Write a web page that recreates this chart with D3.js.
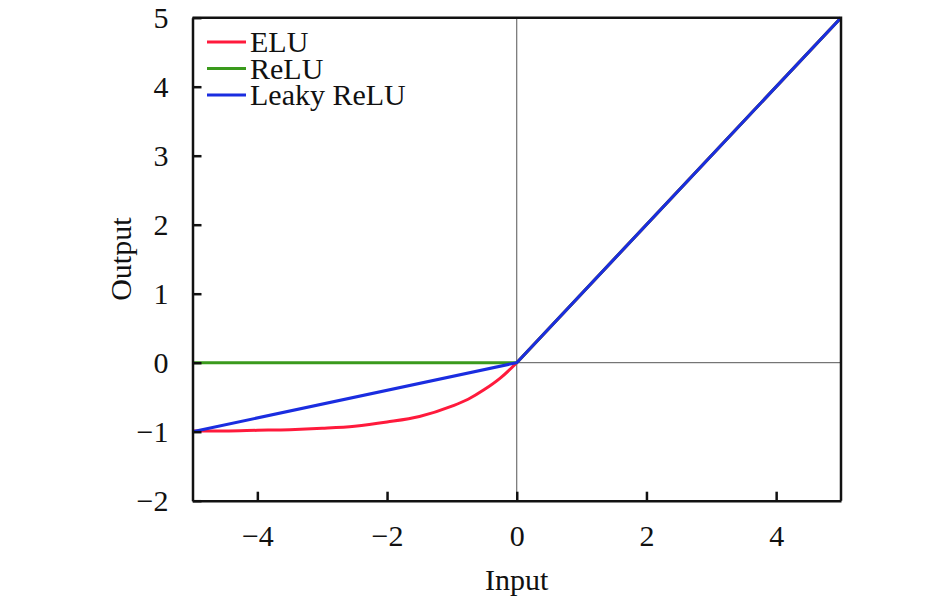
<!DOCTYPE html>
<html>
<head>
<meta charset="utf-8">
<script src="https://cdn.jsdelivr.net/npm/d3@7"></script>
<style>
  body { margin: 0; background: #fff; }
  text { font-family: "Liberation Serif", "Times New Roman", serif; fill: #111; }
</style>
</head>
<body>
<svg id="visualisation" width="945" height="600"></svg>
<script>
// values
var xTicks = [-4, -2, 0, 2, 4];
var yTicks = [-2, -1, 0, 1, 2, 3, 4, 5];

var eluX = [-5, -4.5, -4, -3.5, -3, -2.5, -2, -1.5, -1, -0.75, -0.5, -0.25, 0, 0.25, 1, 5];
var eluY = [-0.99, -0.99, -0.98, -0.97, -0.95, -0.92, -0.86, -0.78, -0.63, -0.53, -0.39, -0.22, 0, 0.25, 1, 5];

var reluX = [-5, 0, 5];
var reluY = [0, 0, 5];

var leakyX = [-5, 0, 5];
var leakyY = [-1, 0, 5];

var seriesNames = ["ELU", "ReLU", "Leaky ReLU"];
var seriesColors = ["#ff1a3c", "#3a9a1c", "#1a2de0"];

var zip = function (xs, ys) {
    return xs.map(function (x, i) { return { x: x, y: ys[i] }; });
};

var fmt = function (d) { return d < 0 ? "\u2212" + Math.abs(d) : d; };

var initchart = function () {
    var vis = d3.select("#visualisation"),
        MARGINS = { top: 17.7, right: 104, bottom: 99.3, left: 192.5 },
        WIDTH = 945,
        HEIGHT = 600,
        xScale = d3.scaleLinear().domain([-5, 5]).range([MARGINS.left, WIDTH - MARGINS.right]),
        yScale = d3.scaleLinear().domain([-2, 5]).range([HEIGHT - MARGINS.bottom, MARGINS.top]);

    // zero lines
    vis.append("line")
        .attr("x1", xScale(0)).attr("x2", xScale(0))
        .attr("y1", yScale(5)).attr("y2", yScale(-2))
        .attr("stroke", "#555").attr("stroke-width", 1);
    vis.append("line")
        .attr("x1", xScale(-5)).attr("x2", xScale(5))
        .attr("y1", yScale(0)).attr("y2", yScale(0))
        .attr("stroke", "#555").attr("stroke-width", 1);

    var lineGen = d3.line()
        .x(function (d) { return xScale(d.x); })
        .y(function (d) { return yScale(d.y); });

    var data = [zip(eluX, eluY), zip(reluX, reluY), zip(leakyX, leakyY)];
    data.forEach(function (pts, i) {
        vis.append("path")
            .attr("d", lineGen.curve(i === 0 ? d3.curveMonotoneX : d3.curveLinear)(pts))
            .attr("stroke", seriesColors[i])
            .attr("stroke-width", 3)
            .attr("fill", "none");
    });

    // axes with inward ticks
    var xAxis = d3.axisBottom(xScale).tickValues(xTicks).tickSizeInner(-9).tickSizeOuter(0)
        .tickPadding(24).tickFormat(fmt);
    var yAxis = d3.axisLeft(yScale).tickValues(yTicks).tickSizeInner(-9).tickSizeOuter(0)
        .tickPadding(24).tickFormat(fmt);

    var gx = vis.append("g")
        .attr("transform", "translate(0," + yScale(-2) + ")")
        .call(xAxis);
    var gy = vis.append("g")
        .attr("transform", "translate(" + xScale(-5) + ",0)")
        .call(yAxis);
    [gx, gy].forEach(function (g) {
        g.select(".domain").attr("stroke", "#111").attr("stroke-width", 2.5);
        g.selectAll(".tick line").attr("stroke", "#111").attr("stroke-width", 2.5);
        g.selectAll(".tick text").style("font-family", "Liberation Serif").style("font-size", "30px").attr("fill", "#111");
    });
    gx.selectAll(".tick text").attr("dy", "0.72em");

    // top and right frame
    vis.append("path")
        .attr("d", "M" + xScale(-5) + "," + yScale(5) + "H" + xScale(5) + "V" + yScale(-2))
        .attr("stroke", "#111").attr("stroke-width", 2.5).attr("fill", "none");

    // axis titles
    vis.append("text")
        .attr("x", xScale(0)).attr("y", 590)
        .attr("text-anchor", "middle")
        .style("font-size", "30px")
        .text("Input");
    vis.append("text")
        .attr("transform", "translate(131," + yScale(1.5) + ") rotate(-90)")
        .attr("text-anchor", "middle")
        .style("font-size", "30px")
        .text("Output");

    // legend
    var legend = vis.append("g");
    seriesNames.forEach(function (name, i) {
        var y = 42 + i * 26.5;
        legend.append("line")
            .attr("x1", 207).attr("x2", 246)
            .attr("y1", y).attr("y2", y)
            .attr("stroke", seriesColors[i]).attr("stroke-width", 3);
        legend.append("text")
            .attr("x", 250).attr("y", y + 10)
            .style("font-size", "30px")
            .text(name);
    });
};

initchart();
</script>
</body>
</html>
